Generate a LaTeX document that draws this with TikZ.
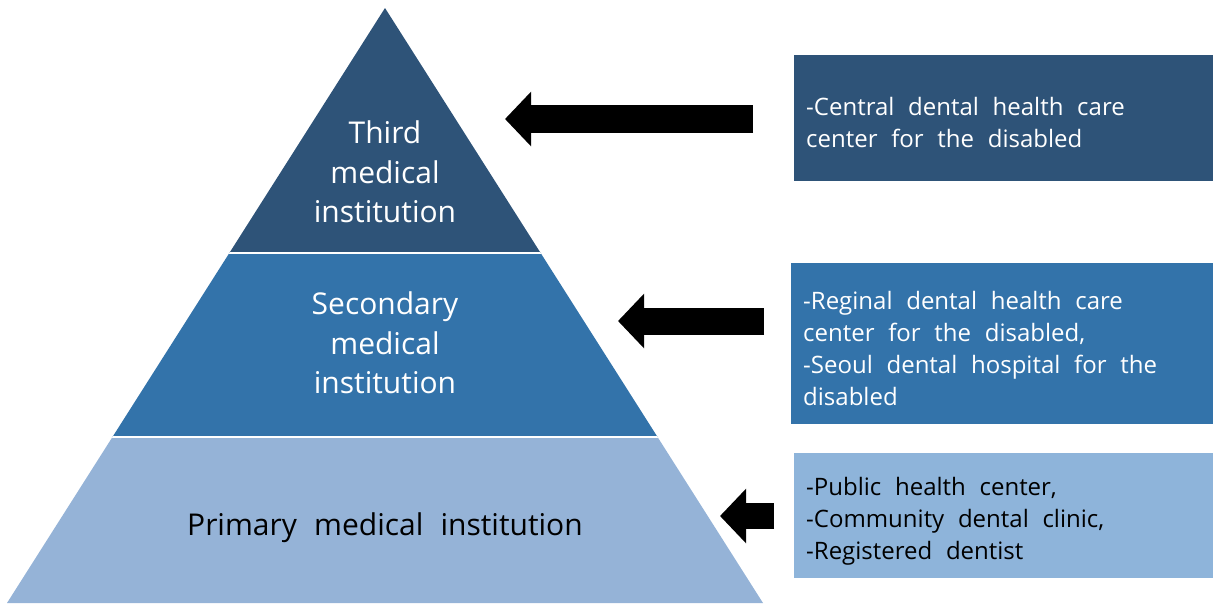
\documentclass[tikz,border=0pt]{standalone}
\usepackage{fontspec}
\setmainfont{Open Sans}
\newfontfamily\levelfont{Open Sans}[WordSpace=3.0]
\newfontfamily\infofont{Open Sans}[WordSpace=2.2]
\usepackage{tikz}
\usetikzlibrary{arrows.meta}

\definecolor{levelthree}{HTML}{2E5378}
\definecolor{leveltwo}{HTML}{3373AA}
\definecolor{levelone}{HTML}{95B3D7}
\definecolor{infoone}{HTML}{8EB4DA}

\tikzset{
  level/.style={align=center, inner sep=0pt, font=\levelfont\fontsize{30}{39.5}\selectfont},
  infobox/.style={anchor=north west, inner sep=0pt, minimum width=#1},
  info/.style={anchor=west, inner sep=0pt, align=left, font=\infofont\fontsize{24}{32}\selectfont},
  fatarrow/.style={line width=#1, -{Triangle[width=53pt,length=26pt]}}
}

\begin{document}
\begin{tikzpicture}[x=1pt,y=-1pt]
        \useasboundingbox (0,0) rectangle (1213,606);

        % pyramid, cut in three levels
        \begin{scope}
        \clip (385,8) -- (763,603) -- (7,603) -- cycle;
        \fill[levelthree] (0,0) rectangle (800,253);
        \fill[leveltwo] (0,253) rectangle (800,437);
        \fill[levelone] (0,437) rectangle (800,606);
        \draw[white, line width=2pt] (0,253) -- (800,253) (0,437) -- (800,437);
        \end{scope}

        \node[level, text=white] (third) at (385,172) {Third\\medical\\institution};
        \node[level, text=white] (second) at (385,343) {Secondary\\medical\\institution};
        \node[level] (primary) at (385,528) {Primary medical institution};

        % boxes on the right
        \node[infobox=419pt, fill=levelthree, minimum height=126pt] (central) at (794,55) {};
        \node[infobox=422pt, fill=leveltwo, minimum height=161pt] (regional) at (791,263) {};
        \node[infobox=419pt, fill=infoone, minimum height=125pt] (local) at (794,453) {};
        \node[info, text=white] (centraltext) at ([shift={(12pt,-4pt)}]central.west)
            {-Central dental health care\\center for the disabled};
        \node[info, text=white] (regionaltext) at ([shift={(12pt,-5pt)}]regional.west)
            {-Reginal dental health care\\center for the disabled,\\-Seoul dental hospital for the\\disabled};
        \node[info] (localtext) at ([shift={(12pt,-6pt)}]local.west)
            {-Public health center,\\-Community dental clinic,\\-Registered dentist};

        % arrows
        \coordinate (tailthree) at (753,119);
        \coordinate (tipthree) at (505,119);
        \coordinate (tailtwo) at (764,321);
        \coordinate (tiptwo) at (618,321);
        \coordinate (tailone) at (774,516);
        \coordinate (tipone) at (720,516);
        \draw[fatarrow=28pt] (tailthree) -- (tipthree);
        \draw[fatarrow=27pt] (tailtwo) -- (tiptwo);
        \draw[fatarrow=26pt] (tailone) -- (tipone);
\end{tikzpicture}
\end{document}
